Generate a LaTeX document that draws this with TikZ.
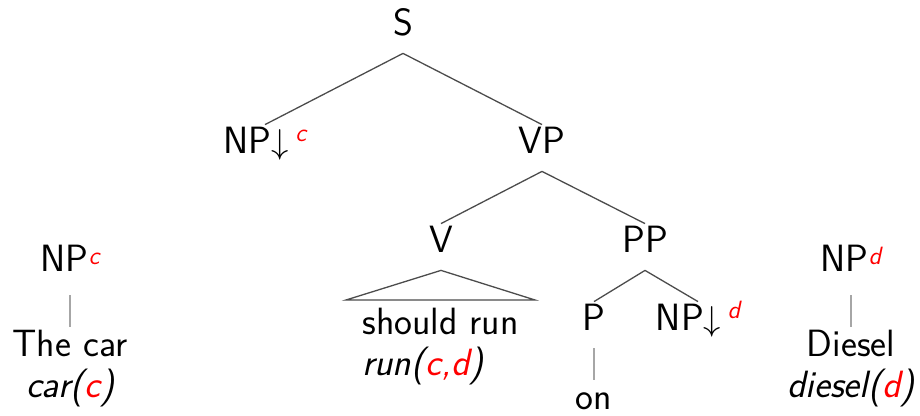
\documentclass[tikz,border=0pt]{standalone}
\usepackage{fontspec}
\usetikzlibrary{positioning}
\renewcommand{\familydefault}{\sfdefault}
% red semantic index, as superscript or inline
\newcommand{\sem}[2][3.5pt]{\raisebox{#1}{\fontsize{12.5}{13}\selectfont\itshape\color{red}#2}}
\newcommand{\red}[1]{{\color{red}#1}}

\begin{document}
\begin{tikzpicture}[x=0.5pt,y=-0.5pt]
  \tikzstyle{cat}=[anchor=base,inner sep=0pt,text height=14.5pt,text depth=8.5pt,font=\fontsize{19}{20}\selectfont]
  \tikzstyle{leaf}=[anchor=base,inner sep=0pt,font=\fontsize{19}{20}\selectfont]
  \tikzstyle{branch}=[draw=black!70,line width=0.65pt]
  \tikzstyle{lex}=[draw=black!35,line width=1.1pt]
  \useasboundingbox (0,0) rectangle (920,416);

  % elementary tree for "should run"
  \node[cat] (S) at (403,36) {S};
  \node[cat] (NPc) at (265,154) {NP$\downarrow$\,\sem[6pt]{c}};
  \node[cat] (VP) at (542,154) {VP};
  \node[cat] (V) at (441,253) {V};
  \node[cat] (PP) at (645,253) {PP};
  \node[cat] (P) at (594,331) {P};
  \node[cat] (NPd) at (698,331) {NP$\downarrow$\,\sem[6pt]{d}};
  \node[cat] (on) at (594,409) {on};
  \node[leaf,anchor=base west] (run) at (362,335)
      {\begin{tabular}[t]{@{}l@{}}should run\\ \itshape run(\red{c,d})\end{tabular}};
  \coordinate (triL) at (346,300);
  \coordinate (triR) at (535,300);

  \draw[branch] (S.south) -- (NPc.north);
  \draw[branch] (S.south) -- (VP.north);
  \draw[branch] (VP.south) -- (V.north);
  \draw[branch] (VP.south) -- (PP.north);
  \draw[branch] (PP.south) -- (P.north);
  \draw[branch] (PP.south) -- (NPd.north);
  \draw[branch] (V.south) -- (triL) -- (triR) -- cycle;
  \draw[lex,shorten >=0pt] (P.south) -- (on.north);

  % initial trees for the two arguments
  \node[cat] (NPcar) at (70,272) {NP\sem{c}};
  \node[leaf] (car) at (70,357)
      {\begin{tabular}[t]{@{}c@{}}The car\\ \itshape car(\red{c})\end{tabular}};
  \node[cat] (NPdiesel) at (851,272) {NP\sem{d}};
  \node[leaf] (diesel) at (851,357)
      {\begin{tabular}[t]{@{}c@{}}Diesel\\ \itshape diesel(\red{d})\end{tabular}};

  \draw[lex,shorten <=3pt,shorten >=1pt] (NPcar.south) -- (car.north);
  \draw[lex,shorten <=3pt,shorten >=1pt] (NPdiesel.south) -- (diesel.north);
\end{tikzpicture}
\end{document}
